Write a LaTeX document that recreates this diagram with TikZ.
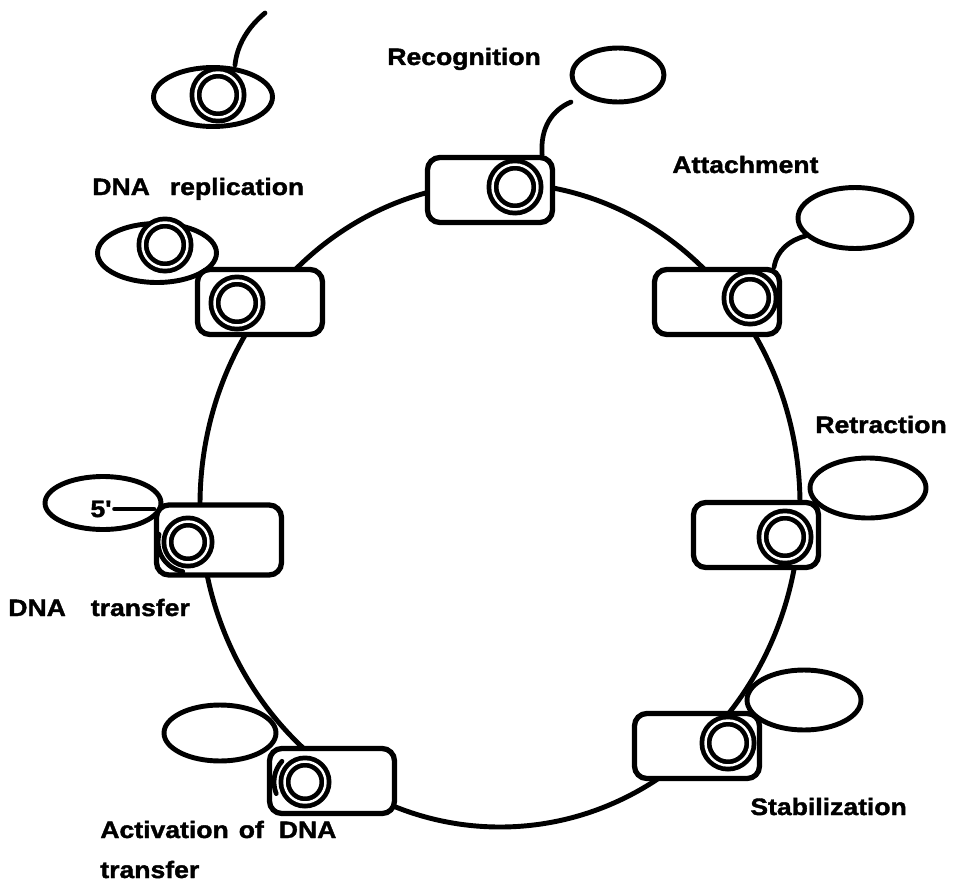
\documentclass[tikz,border=0pt]{standalone}
\usepackage{fontspec}
\newfontfamily\cellfont{Liberation Sans}[FakeStretch=1.12, BoldFeatures={FakeBold=1.6}]
\usetikzlibrary{shapes.geometric}
\tikzset{
  track/.style={line width=2.8pt},
  cell/.style={rectangle, draw, fill=white, rounded corners=7pt, line width=3pt,
    minimum width=2.5cm, minimum height=1.3cm, inner sep=0pt},
  bleb/.style={ellipse, draw, fill=white, line width=2.8pt,
    minimum width=2.32cm, minimum height=1.2cm, inner sep=0pt},
  ring/.style={circle, draw, fill=white, line width=2.7pt, double=white,
    double distance=1.4pt, minimum size=0.9cm, inner sep=0pt},
  tether/.style={line width=2.7pt, line cap=round},
  stage/.style={font=\cellfont\bfseries\fontsize{13.5}{15}\selectfont,
    anchor=base west, inner sep=0pt},
}
\begin{document}
\begin{tikzpicture}[x=0.02cm, y=-0.02cm]
\useasboundingbox (0,0) rectangle (963,892);
\draw[track] (500,505) ellipse [x radius=300, y radius=322];

% released copy
\node[bleb, minimum width=2.38cm, minimum height=1.18cm] (daub) at (213,97) {};
\node[ring] (daur) at (218,95) {};
\coordinate (dauend) at (265,13);
\draw[tether] ([xshift=0.44cm]daub.north) .. controls (237,45) and (248,27) .. (dauend);

% recognition
\node[cell] (recc) at (490,190) {};
\node[ring] (recr) at (515,187) {};
\node[bleb, minimum width=1.84cm, minimum height=1.08cm] (recb) at (618,75) {};
\coordinate (recend) at (571,102);
\draw[tether] ([xshift=-0.26cm]recc.north east) .. controls (540,128) and (552,110) .. (recend);
\node[stage] (reclab) at (387,65) {Recognition};

% attachment
\node[cell] (attc) at (717,302) {};
\node[ring] (attr) at (750,298) {};
\node[bleb, minimum width=2.28cm, minimum height=1.22cm] (attb) at (855,218) {};
\draw[tether] ([xshift=-0.16cm]attc.north east) .. controls (777,250) and (790,240) .. (attb.200);
\node[stage] (attlab) at (672,173) {Attachment};

% retraction
\node[bleb] (retb) at (868,488) {};
\node[cell] (retc) at (756,535) {};
\node[ring] (retr) at (785,537) {};
\node[stage] (retlab) at (815,433) {Retraction};

% stabilization
\node[cell] (stac) at (697,746) {};
\node[bleb, minimum width=2.28cm] (stab) at (804,700) {};
\node[ring] (star) at (728,743) {};
\node[stage] (stalab) at (750,815) {Stabilization};

% activation
\node[bleb, minimum width=2.24cm, minimum height=1.12cm] (actb) at (220,733) {};
\node[cell] (actc) at (332,781) {};
\node[ring, minimum size=0.82cm] (actr) at (305,782) {};
\draw[tether] (actr.center) ++(158:31) arc[start angle=158, end angle=222, radius=31];
\node[stage] (actlab) at (100,838) {Activation\hspace{0.2cm}of\hspace{0.3cm}DNA};
\node[stage] (actlab2) at (100,878) {transfer};

% transfer
\node[bleb, minimum height=1.06cm] (xferb) at (103,503) {};
\node[cell, minimum height=1.4cm] (xferc) at (219,540) {};
\node[ring, minimum size=0.82cm] (xferr) at (188,542) {};
\draw[tether] (xferr.center) ++(100:30) arc[start angle=100, end angle=195, radius=30];
\node[font=\cellfont\bfseries\fontsize{13.5}{15}\selectfont, inner sep=1.5pt] (five) at (101,509) {5'};
\draw[tether] (five.east) -- (five.east -| xferc.west);
\node[stage] (xferlab) at (8,616) {DNA\hspace{0.5cm}transfer};

% replication
\node[bleb, minimum width=2.38cm, minimum height=1.18cm] (repb) at (157,253) {};
\node[ring] (repbr) at (165,245) {};
\node[cell] (repc) at (260,302) {};
\node[ring] (repr) at (237,303) {};
\node[stage] (replab) at (92,195) {DNA\hspace{0.4cm}replication};
\end{tikzpicture}
\end{document}
